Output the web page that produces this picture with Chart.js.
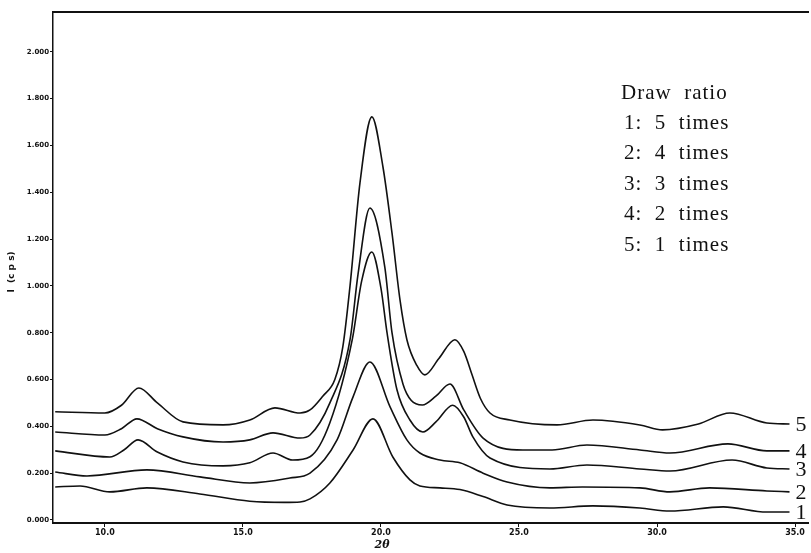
<!DOCTYPE html>
<html>
<head>
<meta charset="utf-8">
<script src="https://cdn.jsdelivr.net/npm/chart.js@4.4.0/dist/chart.umd.min.js"></script>
<style>
  body { margin: 0; background: #fff; }
  #wrap { width: 811px; height: 553px; position: relative; }
</style>
</head>
<body>
<div id="wrap"><canvas id="chart" width="811" height="553"></canvas></div>
<script>
// 2 theta positions and intensity (cps), one pair of arrays per curve
var x1 = [8.2, 9.1, 10.18, 11.52, 13.44, 15.25, 16.5, 17.07, 17.43, 18.15, 18.99, 19.71, 20.43, 21.05, 21.41, 22.14, 22.86, 23.7, 24.57, 26.12, 27.68, 29.38, 30.47, 32.4, 33.98, 34.8];
var y1 = [0.141, 0.145, 0.12, 0.137, 0.111, 0.08, 0.075, 0.077, 0.09, 0.158, 0.299, 0.432, 0.269, 0.171, 0.145, 0.137, 0.13, 0.1, 0.064, 0.051, 0.06, 0.051, 0.038, 0.056, 0.034, 0.034];

var x2 = [8.2, 9.35, 11.52, 13.44, 15.25, 16.7, 17.43, 18.41, 18.99, 19.6, 20.33, 20.94, 21.41, 22.14, 22.86, 23.7, 24.57, 26.12, 27.3, 29.38, 30.47, 31.9, 33.98, 34.8];
var y2 = [0.205, 0.188, 0.214, 0.184, 0.158, 0.179, 0.2, 0.342, 0.526, 0.675, 0.483, 0.342, 0.286, 0.256, 0.244, 0.2, 0.162, 0.137, 0.141, 0.137, 0.12, 0.137, 0.124, 0.12];

var x3 = [8.2, 10.18, 10.7, 11.2, 11.9, 12.83, 14.28, 15.25, 16.09, 16.8, 17.43, 18.15, 18.96, 19.3, 19.67, 20.0, 20.22, 20.58, 21.05, 21.52, 22.0, 22.6, 23.0, 23.33, 23.95, 26.12, 27.46, 29.38, 30.47, 32.72, 33.98, 34.8];
var y3 = [0.295, 0.269, 0.3, 0.342, 0.29, 0.248, 0.231, 0.244, 0.286, 0.256, 0.27, 0.415, 0.77, 1.02, 1.145, 0.99, 0.8, 0.556, 0.427, 0.376, 0.42, 0.49, 0.44, 0.355, 0.265, 0.218, 0.235, 0.218, 0.209, 0.256, 0.222, 0.218];

var x4 = [8.2, 10.0, 10.6, 11.16, 11.9, 12.83, 14.28, 15.25, 16.09, 17.07, 17.43, 18.15, 18.88, 19.17, 19.6, 20.14, 20.4, 20.8, 21.1, 21.5, 22.0, 22.5, 23.0, 23.7, 25.14, 26.2, 27.46, 29.38, 30.47, 32.57, 33.98, 34.8];
var y4 = [0.376, 0.363, 0.39, 0.432, 0.39, 0.355, 0.333, 0.342, 0.372, 0.35, 0.363, 0.5, 0.77, 1.05, 1.333, 1.08, 0.8, 0.58, 0.51, 0.491, 0.53, 0.581, 0.47, 0.35, 0.299, 0.299, 0.32, 0.299, 0.286, 0.325, 0.295, 0.295];

var x5 = [8.2, 10.0, 10.6, 11.23, 11.9, 12.83, 14.28, 15.25, 16.16, 17.07, 17.43, 17.9, 18.33, 18.62, 18.88, 19.24, 19.67, 20.07, 20.4, 20.69, 20.94, 21.3, 21.59, 22.1, 22.68, 23.0, 23.3, 23.6, 23.95, 24.67, 26.38, 27.68, 29.38, 30.2, 31.5, 32.64, 33.98, 34.8];
var y5 = [0.462, 0.457, 0.49, 0.564, 0.5, 0.419, 0.406, 0.427, 0.479, 0.457, 0.47, 0.53, 0.6, 0.74, 1.0, 1.44, 1.722, 1.51, 1.226, 0.94, 0.77, 0.66, 0.62, 0.69, 0.77, 0.72, 0.62, 0.52, 0.457, 0.427, 0.406, 0.427, 0.406, 0.385, 0.41, 0.457, 0.414, 0.41];

var curveNames = ["1", "2", "3", "4", "5"];
var xTicks = [10, 15, 20, 25, 30, 35];
var yTicks = [0, 0.2, 0.4, 0.6, 0.8, 1.0, 1.2, 1.4, 1.6, 1.8, 2.0];
var legendTitle = "Draw  ratio";
var legendLines = ["1:  5  times", "2:  4  times", "3:  3  times", "4:  2  times", "5:  1  times"];

function pairs(xs, ys) {
    var out = [];
    for (var i = 0; i < xs.length; i++) out.push({x: xs[i], y: ys[i]});
    return out;
}

var allX = [x1, x2, x3, x4, x5];
var allY = [y1, y2, y3, y4, y5];
var datasets = [];
for (var i = 0; i < 5; i++) {
    datasets.push({
        label: curveNames[i],
        data: pairs(allX[i], allY[i]),
        borderColor: "#111",
        borderWidth: 1.6,
        pointRadius: 0,
        fill: false,
        cubicInterpolationMode: "monotone"
    });
}

// text drawn on top: legend box, curve numbers, axis titles
var annotate = {
    id: "annotate",
    afterDraw: function(chart) {
        var c = chart.ctx;
        var xs = chart.scales.x, ys = chart.scales.y;
        c.save();
        c.fillStyle = "#111";
        c.textBaseline = "middle";
        c.textAlign = "left";
        c.font = "21px 'Liberation Serif'";
        c.letterSpacing = "1px";
        c.fillText(legendTitle, 621, 93);
        for (var i = 0; i < legendLines.length; i++) {
            c.fillText(legendLines[i], 624, 123 + i * 30.5);
        }
        c.font = "22px 'Liberation Serif'";
        c.letterSpacing = "0px";
        chart.data.datasets.forEach(function(ds) {
            var last = ds.data[ds.data.length - 1];
            c.fillText(ds.label, xs.getPixelForValue(last.x) + 6, ys.getPixelForValue(last.y) + 1);
        });
        // axis titles
        c.font = "bold italic 11px 'DejaVu Serif'";
        c.textAlign = "center";
        c.fillText("2\u03b8", 382, 545);
        c.translate(12, 272);
        c.rotate(-Math.PI / 2);
        c.font = "bold 9px 'DejaVu Sans'";
        c.fillText("I  (c p s)", 0, 0);
        c.restore();
    }
};

var ctx = document.getElementById("chart");
var myChart = new Chart(ctx, {
    type: "line",
    data: { datasets: datasets },
    plugins: [annotate],
    options: {
        responsive: false,
        animation: false,
        layout: { padding: { top: 12, right: 3, left: 0, bottom: 0 } },
        plugins: { legend: { display: false }, tooltip: { enabled: false } },
        scales: {
            x: {
                type: "linear",
                min: 8.12,
                max: 35.47,
                afterFit: function(s) { s.height = 30; },
                afterBuildTicks: function(s) { s.ticks = xTicks.map(function(v) { return {value: v}; }); },
                grid: { drawOnChartArea: false, tickLength: 4, color: "#111" },
                border: { color: "#111", width: 2 },
                ticks: {
                    color: "#111",
                    padding: 1,
                    font: { family: "DejaVu Sans", size: 8, weight: "bold" },
                    callback: function(v) { return v.toFixed(1); }
                }
            },
            y: {
                min: -0.013,
                max: 2.17,
                afterFit: function(s) { s.width = 53; },
                afterBuildTicks: function(s) { s.ticks = yTicks.map(function(v) { return {value: v}; }); },
                grid: { drawOnChartArea: false, tickLength: 3, color: "#111" },
                border: { color: "#111", width: 1.5 },
                ticks: {
                    color: "#111",
                    padding: 1,
                    font: { family: "DejaVu Sans", size: 7, weight: "bold" },
                    callback: function(v) { return v.toFixed(3); }
                }
            },
            top: {
                type: "linear",
                position: "top",
                display: true,
                afterFit: function(s) { s.height = 0; },
                ticks: { display: false },
                grid: { display: false },
                border: { color: "#111", width: 2 }
            }
        }
    }
});
</script>
</body>
</html>
